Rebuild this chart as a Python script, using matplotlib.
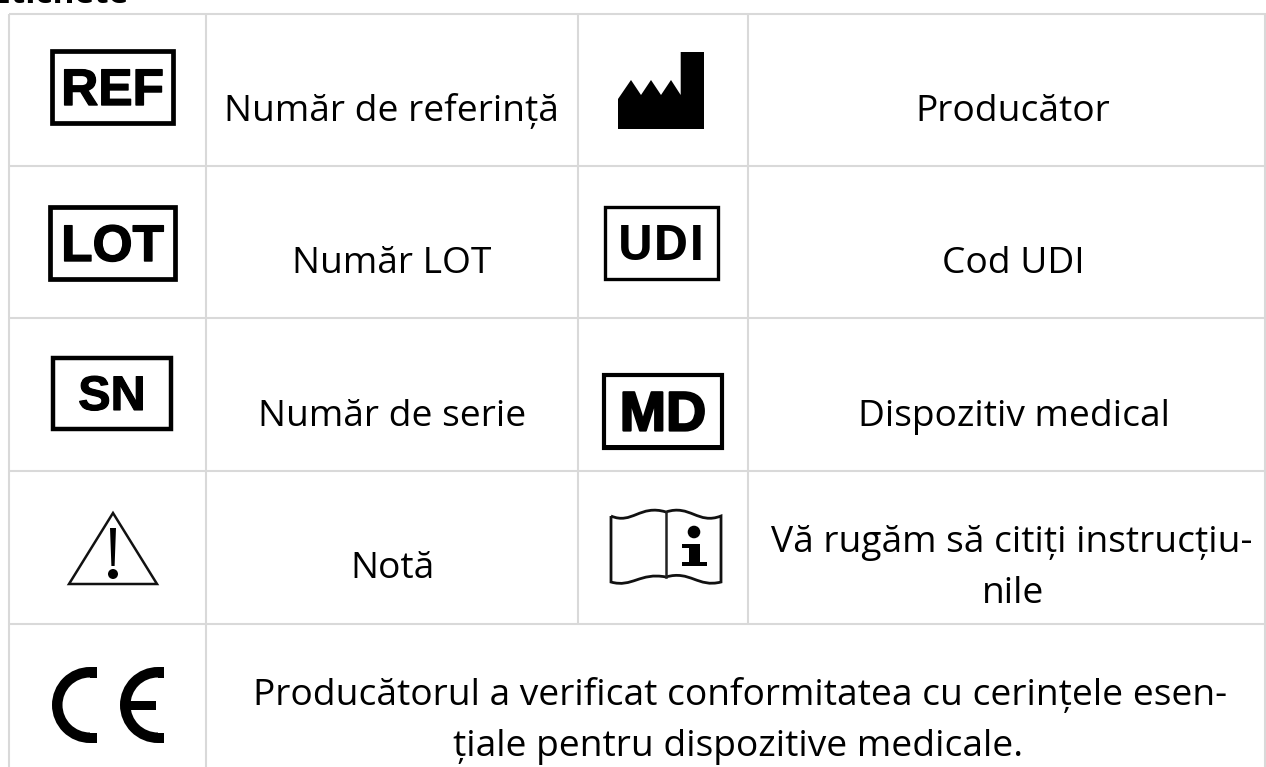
import matplotlib
matplotlib.use("Agg")
import matplotlib.pyplot as plt
import matplotlib.patheffects as pe
from matplotlib.patches import Rectangle, Polygon, Circle, PathPatch, Wedge
from matplotlib.path import Path

W, H = 1266, 767
GRID = "#d9d9d9"
BODY_FONT = "Open Sans"

# ── Table content ───────────────────────────────────────────
title = "Etichete"
row_lines = [14, 166, 318, 471, 624]

box_labels = ["REF", "LOT", "SN", "UDI", "MD"]
box_x0 = [50, 48, 51, 603, 602]
box_x1 = [175, 177, 173, 720, 724]
box_y0 = [49, 205, 356, 205, 373]
box_y1 = [125, 281, 431, 281, 450]
box_fonts = ["Liberation Sans", "Liberation Sans", "Liberation Sans", "Open Sans", "Liberation Sans"]
box_sizes = [37, 37, 35, 35, 40]
box_lw = [3.4, 3.4, 3.2, 2.4, 3.0]
box_stroke = [1.0, 1.0, 0.8, 0, 1.6]

texts = ["Număr de referință", "Număr LOT", "Număr de serie", "Notă",
         "Producător", "Cod UDI", "Dispozitiv medical",
         "Vă rugăm să citiți instrucțiu-", "nile",
         "Producătorul a verificat conformitatea cu cerințele esen-",
         "țiale pentru dispozitive medicale."]
text_x = [391, 392, 392, 392, 1013, 1013, 1014, 1012, 1013, 740, 738]
text_base = [121, 273, 426, 578, 121, 273, 426, 552, 603, 705, 756]

fig = plt.figure(figsize=(W / 100, H / 100), dpi=100)
ax = fig.add_axes([0, 0, 1, 1])
ax.set_xlim(0, W)
ax.set_ylim(H, 0)
ax.axis("off")

# ── Grid ────────────────────────────────────────────────────
for y in row_lines:
    ax.plot([9, W], [y, y], color=GRID, lw=1.5, solid_capstyle="butt")
for x in [9, 206, 1265]:
    ax.plot([x, x], [14, H], color=GRID, lw=1.5, solid_capstyle="butt")
for x in [578, 748]:
    ax.plot([x, x], [14, 624], color=GRID, lw=1.5, solid_capstyle="butt")

ax.text(128, 3, title, ha="right", va="baseline", family=BODY_FONT, weight="bold",
        fontsize=24, color="black")

# ── Labels ──────────────────────────────────────────────────
for s, x, y in zip(texts, text_x, text_base):
    ax.text(x, y, s, ha="center", va="baseline", family=BODY_FONT, fontsize=26.7, color="black")

# ── Boxed symbols ───────────────────────────────────────────
for lab, x0, x1, y0, y1, fnt, fs, lw, st in zip(box_labels, box_x0, box_x1, box_y0, box_y1,
                                                box_fonts, box_sizes, box_lw, box_stroke):
    off = lw * 100 / 72 / 2
    ax.add_patch(Rectangle((x0 + off, y0 + off), x1 - x0 - 2 * off, y1 - y0 - 2 * off,
                           fc="white", ec="black", lw=lw, joinstyle="miter"))
    t = ax.text((x0 + x1) / 2, (y0 + y1) / 2 - 1, lab, ha="center", va="center_baseline",
                family=fnt, weight="bold", fontsize=fs, color="black")
    if st:
        t.set_path_effects([pe.withStroke(linewidth=st, foreground="black")])

# thick bottom edge on the MD box
ax.add_patch(Rectangle((602, 445), 122, 5, fc="black", ec="none"))

# ── Factory ─────────────────────────────────────────────────
factory_x = [618, 618, 631, 641, 651, 661, 671, 680.7, 680.7, 704, 704]
factory_y = [129, 99, 80, 95, 80, 95, 80, 95, 52, 52, 129]
ax.add_patch(Polygon(list(zip(factory_x, factory_y)), closed=True, fc="black", ec="none"))

# ── Warning triangle ────────────────────────────────────────
ax.add_patch(Polygon([(113, 513), (157, 584), (69, 584)], closed=True, fc="white", ec="#111111",
                     lw=1.8, joinstyle="miter"))
ax.add_patch(Polygon([(110, 528), (116, 528), (114.6, 566), (111.4, 566)], closed=True, fc="black", ec="none"))
ax.add_patch(Circle((113, 574), 5, fc="black", ec="none"))

# ── Book ────────────────────────────────────────────────────
book = Path([(611, 516),
             (611, 582),
             (632, 588), (640, 572), (666, 577),
             (690, 570), (698, 588), (721, 582),
             (721, 516),
             (698, 525), (690, 504), (666, 512),
             (640, 504), (632, 525), (611, 516)],
            [Path.MOVETO, Path.LINETO,
             Path.CURVE4, Path.CURVE4, Path.CURVE4,
             Path.CURVE4, Path.CURVE4, Path.CURVE4,
             Path.LINETO,
             Path.CURVE4, Path.CURVE4, Path.CURVE4,
             Path.CURVE4, Path.CURVE4, Path.CURVE4])
ax.add_patch(PathPatch(book, fc="white", ec="#111111", lw=2.0))
ax.plot([666, 666], [512, 577], color="#222222", lw=1.8)
ax.add_patch(Circle((694, 532), 6.3, fc="black", ec="none"))
ax.add_patch(Polygon([(682, 544), (700, 544), (700, 562), (707, 562), (707, 566), (682, 566), (682, 562),
                      (689, 562), (689, 548), (682, 548)], closed=True, fc="black", ec="none"))

# ── CE mark ─────────────────────────────────────────────────
for cx, tail in [(90, 7), (158, 6)]:
    ax.add_patch(Wedge((cx, 705), 38, 90, 270, width=10.5, fc="black", ec="none"))
    ax.add_patch(Rectangle((cx, 667), tail, 10.5, fc="black", ec="none"))
    ax.add_patch(Rectangle((cx, 732.5), tail, 10.5, fc="black", ec="none"))
ax.add_patch(Rectangle((125, 701), 31, 8.5, fc="black", ec="none"))

fig.savefig("out.png", dpi=100)
